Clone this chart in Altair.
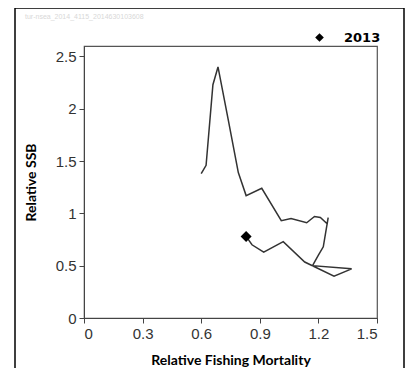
import altair as alt
import pandas as pd

years = list(range(1989, 2014))
rel_f = [0.60, 0.625, 0.66, 0.686, 0.74, 0.79, 0.83, 0.91, 1.01, 1.06, 1.14, 1.18, 1.21,
         1.245, 1.25, 1.225, 1.20, 1.17, 1.37, 1.28, 1.13, 1.02, 0.92, 0.86, 0.83]
rel_ssb = [1.38, 1.46, 2.23, 2.40, 1.88, 1.39, 1.17, 1.24, 0.93, 0.95, 0.91, 0.97, 0.96,
           0.90, 0.96, 0.68, 0.60, 0.50, 0.47, 0.40, 0.535, 0.73, 0.63, 0.70, 0.78]
x_ticks = [0, 0.3, 0.6, 0.9, 1.2, 1.5]
y_ticks = [0, 0.5, 1, 1.5, 2, 2.5]
legend_label = "2013"
watermark = "tur-nsea_2014_4115_2014630103608"

df = pd.DataFrame({"year": years, "F": rel_f, "SSB": rel_ssb})
last = df.tail(1).assign(label=legend_label)

W, H = 293, 272

xs = alt.Scale(domain=[0, 1.5], nice=False, zero=False)
ys = alt.Scale(domain=[0, 2.6], nice=False, zero=False)

line = alt.Chart(df).mark_line(color="#333333", strokeWidth=1.5).encode(
    x=alt.X("F:Q", scale=xs, axis=alt.Axis(values=x_ticks, title="Relative Fishing Mortality",
                                           format="~g")),
    y=alt.Y("SSB:Q", scale=ys, axis=alt.Axis(values=y_ticks, title="Relative SSB", format="~g")),
    order="year:O",
)

pt = alt.Chart(last).mark_point(filled=True, opacity=1, size=120).encode(
    x=alt.X("F:Q", scale=xs),
    y=alt.Y("SSB:Q", scale=ys),
    shape=alt.Shape("label:N", scale=alt.Scale(range=["diamond"]),
                    legend=alt.Legend(title=None, orient="none", legendX=229, legendY=-15,
                                      labelFont="DejaVu Sans", labelFontWeight="bold",
                                      labelFontSize=13, labelColor="#000000",
                                      symbolSize=75, symbolFillColor="#000000",
                                      symbolStrokeColor="#000000", labelOffset=18)),
    color=alt.value("#000000"),
)

frame_df = pd.DataFrame({"k": [0]})
frame = alt.Chart(frame_df).mark_rect(filled=False, stroke="#000000", strokeWidth=1.5).encode(
    x=alt.value(-69), x2=alt.value(320), y=alt.value(-38), y2=alt.value(420)
)
wm = alt.Chart(frame_df).mark_text(align="left", baseline="middle", fontSize=7,
                                   color="#d8d8d8", font="Liberation Sans").encode(
    x=alt.value(-59), y=alt.value(-29), text=alt.value(watermark)
)

chart = alt.layer(frame, wm, line, pt).properties(
    width=W, height=H,
    autosize=alt.AutoSizeParams(type="none"),
    padding={"left": 76, "top": 38, "right": 28, "bottom": 50},
).configure_view(stroke="#555555", strokeWidth=1.2).configure_axis(
    grid=False, domainColor="#444444", tickColor="#444444", tickSize=5,
    labelFont="Liberation Sans", labelFontSize=15, labelColor="#333333",
    titleFont="Lato", titleFontSize=14, titleFontWeight="bold", titleColor="#000000",
).configure_axisX(labelPadding=3, titlePadding=12).configure_axisY(
    labelPadding=3, titlePadding=17
)

chart.save("out.html", embed_options={"renderer": "svg", "actions": False})
